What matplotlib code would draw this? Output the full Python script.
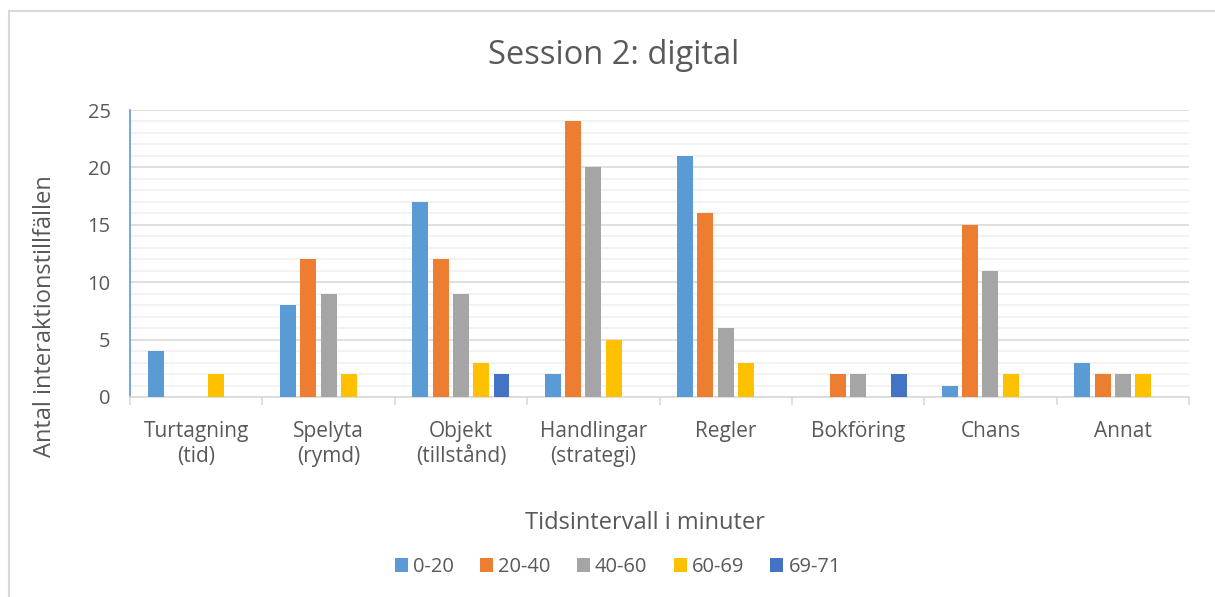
import matplotlib.pyplot as plt
from matplotlib.patches import Rectangle
from matplotlib.ticker import MultipleLocator, FixedLocator
import numpy as np

plt.rcParams['font.family'] = ['Open Sans', 'DejaVu Sans']

categories = ["Turtagning\n(tid)", "Spelyta\n(rymd)", "Objekt\n(tillstånd)",
              "Handlingar\n(strategi)", "Regler", "Bokföring", "Chans", "Annat"]
intervals = ["0-20", "20-40", "40-60", "60-69", "69-71"]
v_0_20 = [4, 8, 17, 2, 21, 0, 1, 3]
v_20_40 = [0, 12, 12, 24, 16, 2, 15, 2]
v_40_60 = [0, 9, 9, 20, 6, 2, 11, 2]
v_60_69 = [2, 2, 3, 5, 3, 0, 2, 2]
v_69_71 = [0, 0, 2, 0, 0, 2, 0, 0]
colors = ["#5b9bd5", "#ed7d31", "#a5a5a5", "#ffc000", "#4472c4"]

text_col = "#595959"
grid_col = "#d9d9d9"

fig = plt.figure(figsize=(12.15, 5.97), dpi=100)
ax = fig.add_axes([130 / 1215, 1 - 397 / 597, 1059 / 1215, 287 / 597])

x = np.arange(len(categories)) + 0.5
slot = 0.153
width = 0.12
series = [v_0_20, v_20_40, v_40_60, v_60_69, v_69_71]
for j, (vals, name, c) in enumerate(zip(series, intervals, colors)):
    ax.bar(x + (j - 2) * slot, vals, width, color=c, label=name, zorder=3)

ax.set_xlim(0, len(categories))
ax.set_ylim(0, 25)
ax.yaxis.set_major_locator(MultipleLocator(5))
ax.yaxis.set_minor_locator(MultipleLocator(1))
ax.grid(which="major", axis="y", color=grid_col, lw=1.2, zorder=0)
ax.grid(which="minor", axis="y", color="#f0f0f0", lw=1.2, zorder=0)
ax.tick_params(axis="y", which="both", length=0, labelsize=14.5, labelcolor=text_col, pad=14)

# category boundaries get the tick marks, labels sit in between
ax.xaxis.set_major_locator(FixedLocator(np.arange(len(categories) + 1)))
ax.xaxis.set_minor_locator(FixedLocator(x))
ax.set_xticklabels([], minor=False)
ax.set_xticklabels(categories, minor=True, linespacing=1.3)
ax.tick_params(axis="x", which="major", length=6, color=grid_col, width=1.2)
ax.tick_params(axis="x", which="minor", length=0, labelsize=15, labelcolor=text_col, pad=17)

for s in ["top", "right"]:
    ax.spines[s].set_visible(False)
ax.spines["bottom"].set_color(grid_col)
ax.spines["bottom"].set_linewidth(1.2)
ax.spines["left"].set_color("#5b9bd5")
ax.spines["left"].set_linewidth(1.2)

fig.text(614 / 1215, 1 - 55 / 597, "Session 2: digital", ha="center", va="center",
         fontsize=23.5, color=text_col)
fig.text(45 / 1215, 1 - 316 / 597, "Antal interaktionstillfällen", rotation=90,
         ha="center", va="center", fontsize=17, color=text_col)
fig.text(645 / 1215, 1 - 523 / 597, "Tidsintervall i minuter", ha="center",
         va="center", fontsize=17, color=text_col)

fig.legend(loc="center", bbox_to_anchor=(618 / 1215, 1 - 567 / 597), ncol=5,
           frameon=False, fontsize=14.5, labelcolor=text_col, handlelength=0.65,
           handleheight=0.65, handletextpad=0.25, columnspacing=1.3)

fig.patches.append(Rectangle((9 / 1215, -0.1), 1.2, 1.1 - 11 / 597,
                             transform=fig.transFigure, fill=False,
                             edgecolor=grid_col, lw=1.5))

fig.savefig("out.png", dpi=100)
